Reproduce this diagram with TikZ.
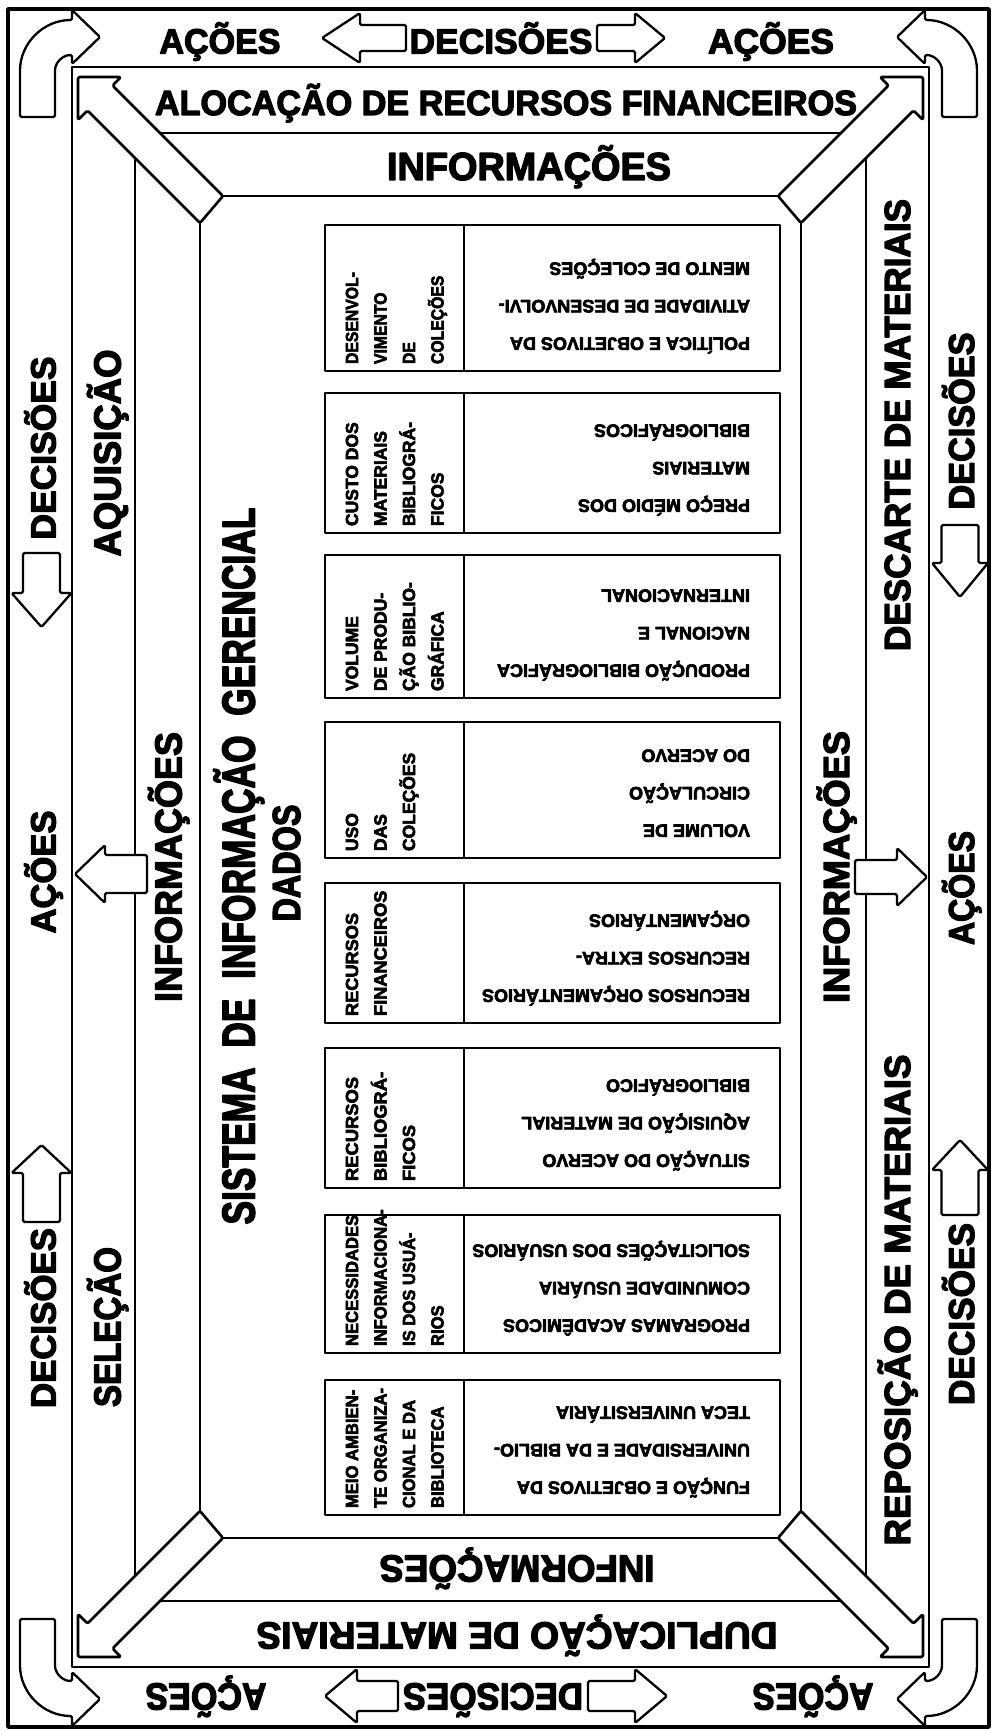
\documentclass[tikz,border=0pt]{standalone}
\usepackage{fontspec}
\setmainfont{Liberation Sans}
\newfontfamily\heavy{Liberation Sans}[FakeBold=3.5]
\usepackage{graphicx}
\newcommand\fitw[2]{\resizebox{#1pt}{\height}{#2}}
\newcommand\myharrow[6]{% yc tail base tip bw hw
  \draw[blk] (#2,{#1-#5}) -- (#3,{#1-#5}) -- (#3,{#1-#6}) -- (#4,#1) -- (#3,{#1+#6}) -- (#3,{#1+#5}) -- (#2,{#1+#5}) -- cycle;}
\newcommand\myvarrow[6]{% xc tail base tip bw hw
  \draw[blk] ({#1-#5},#2) -- ({#1-#5},#3) -- ({#1-#6},#3) -- (#1,#4) -- ({#1+#6},#3) -- ({#1+#5},#3) -- ({#1+#5},#2) -- cycle;}
\newcommand\myhd[4]{% bottom, line index, xscale, text
  \node[lbl, anchor=base west, fs=17.5, rotate=90] (hd#1x#2) at ({358+28.5*#2},{#1-7}) {\scalebox{#3}[1]{#4}};}
\newcommand\myrt[3]{% bottom, line index, text
  \node[lbl, anchor=base west, fs=18, rotate=180] (rt#1x#2) at (750,{#1-33.5-37.5*#2}) {#3};}
\begin{document}
\begin{tikzpicture}[x=1pt,y=-1pt,line join=round,
  lbl/.style={inner sep=0pt,outer sep=0pt,anchor=base},
  fs/.style={font=\heavy\bfseries\fontsize{#1}{#1}\selectfont},
  outerln/.style={line width=3.4pt},
  ln/.style={line width=2.8pt},
  band/.style={line width=2.6pt,fill=white,rounded corners=1.5pt},
  blk/.style={line width=2.3pt,fill=white,rounded corners=1.5pt},
  tbl/.style={line width=2.4pt}]
\useasboundingbox (0,0) rectangle (991,1731);
\fill[white] (0,0) rectangle (991,1731);
% frames
\draw[outerln] (8,9) rectangle (989,1727);
\draw[ln] (72,67) rectangle (929,1667);
\draw[ln] (135,133) -- (866,133);
\draw[ln] (135,1601) -- (866,1601);
\draw[ln] (135,133) -- (135,1601);
\draw[ln] (866,133) -- (866,1601);
\draw[ln] (200,196) -- (801,196);
\draw[ln] (200,1538) -- (801,1538);
\draw[ln] (200,196) -- (200,1538);
\draw[ln] (801,196) -- (801,1538);
% diagonal corner arrows
\foreach \sx/\sy/\mx/\my in {0/0/1/1, 1001/0/-1/1, 0/1734/1/-1, 1001/1734/-1/-1}{
  \begin{scope}[shift={(\sx,\sy)},xscale=\mx,yscale=\my]
    \draw[band] (223,196) -- (112.5,85.5) -- (121,77) -- (78,77) -- (78,120) -- (87.5,110.5) -- (200,223) -- cycle;
  \end{scope}}
% curved arrows in outer corners
\foreach \sx/\sy/\mx/\my in {0/0/1/1, 997/0/-1/1, 0/1736/1/-1, 997/1736/-1/-1}{
  \begin{scope}[shift={(\sx,\sy)},xscale=\mx,yscale=\my]
    \draw[blk] (20,117) -- (20,72) .. controls (20,43.3) and (43.3,20) .. (72,20) -- (72,10) -- (100,37) -- (72,64) -- (72,55) .. controls (62.6,55) and (55,62.6) .. (55,72) -- (55,117) -- cycle;
  \end{scope}}
% straight block arrows
\myharrow{38}{406}{360}{322}{13}{25}
\myharrow{38}{597}{635}{665}{13}{25}
\myharrow{1696}{398}{357}{325}{15}{27}
\myharrow{1696}{588}{635}{667}{15}{27}
\myharrow{874}{147}{105}{75}{19}{29}
\myharrow{877}{855}{897}{927}{17}{29}
\myvarrow{41.5}{553}{593}{627}{18.5}{30}
\myvarrow{41.5}{1222}{1173}{1145}{18.5}{30}
\myvarrow{960}{525}{563}{597}{18.5}{28}
\myvarrow{960}{1215}{1170}{1140}{18.5}{28}
% table
\foreach \t/\b in {225/371,393/533,555/698,722/858,883/1023,1048/1188,1215/1353,1380/1515}{
  \draw[tbl] (325,\t) rectangle (780,\b);
  \draw[tbl] (464,\t) -- (464,\b);}
% headers
\myhd{371}{0}{0.9}{DESENVOL-}\myhd{371}{1}{0.9}{VIMENTO}\myhd{371}{2}{0.9}{DE}\myhd{371}{3}{0.9}{COLEÇÕES}
\myhd{533}{0}{1}{CUSTO DOS}\myhd{533}{1}{1}{MATERIAIS}\myhd{533}{2}{1}{BIBLIOGRÁ-}\myhd{533}{3}{1}{FICOS}
\myhd{698}{0}{1}{VOLUME}\myhd{698}{1}{1}{DE PRODU-}\myhd{698}{2}{1}{ÇÃO BIBLIO-}\myhd{698}{3}{1}{GRÁFICA}
\myhd{858}{0}{1}{USO}\myhd{858}{1}{1}{DAS}\myhd{858}{2}{1}{COLEÇÕES}
\myhd{1023}{0}{1.04}{RECURSOS}\myhd{1023}{1}{1.04}{FINANCEIROS}
\myhd{1188}{0}{1.05}{RECURSOS}\myhd{1188}{1}{1.05}{BIBLIOGRÁ-}\myhd{1188}{2}{1.05}{FICOS}
\myhd{1353}{0}{0.95}{NECESSIDADES}\myhd{1353}{1}{0.95}{INFORMACIONA-}\myhd{1353}{2}{0.95}{IS DOS USUÁ-}\myhd{1353}{3}{0.95}{RIOS}
\myhd{1515}{0}{0.95}{MEIO AMBIEN-}\myhd{1515}{1}{0.95}{TE ORGANIZA-}\myhd{1515}{2}{0.95}{CIONAL E DA}\myhd{1515}{3}{0.95}{BIBLIOTECA}
% right cells
\myrt{371}{0}{POLÍTICA E OBJETIVOS DA}\myrt{371}{1}{ATIVIDADE DE DESENVOLVI-}\myrt{371}{2}{MENTO DE COLEÇÕES}
\myrt{533}{0}{PREÇO MÉDIO DOS}\myrt{533}{1}{MATERIAIS}\myrt{533}{2}{BIBLIOGRÁFICOS}
\myrt{698}{0}{PRODUÇÃO BIBLIOGRÁFICA}\myrt{698}{1}{NACIONAL E}\myrt{698}{2}{INTERNACIONAL}
\myrt{858}{0}{VOLUME DE}\myrt{858}{1}{CIRCULAÇÃO}\myrt{858}{2}{DO ACERVO}
\myrt{1023}{0}{RECURSOS ORÇAMENTÁRIOS}\myrt{1023}{1}{RECURSOS EXTRA-}\myrt{1023}{2}{ORÇAMENTÁRIOS}
\myrt{1188}{0}{SITUAÇÃO DO ACERVO}\myrt{1188}{1}{AQUISIÇÃO DE MATERIAL}\myrt{1188}{2}{BIBLIOGRÁFICO}
\myrt{1353}{0}{PROGRAMAS ACADÊMICOS}\myrt{1353}{1}{COMUNIDADE USUÁRIA}\myrt{1353}{2}{SOLICITAÇÕES DOS USUÁRIOS}
\myrt{1515}{0}{FUNÇÃO E OBJETIVOS DA}\myrt{1515}{1}{UNIVERSIDADE E DA BIBLIO-}\myrt{1515}{2}{TECA UNIVERSITÁRIA}
% top texts
\node[lbl,fs=35] (tA1) at (220,53.5) {\fitw{121}{AÇÕES}};
\node[lbl,fs=35] (tD1) at (501,53.5) {\fitw{183}{DECISÕES}};
\node[lbl,fs=35] (tA2) at (771,53.5) {\fitw{126}{AÇÕES}};
\node[lbl,fs=35] (tAloc) at (506,115) {\fitw{702}{ALOCAÇÃO DE RECURSOS FINANCEIROS}};
\node[lbl,fs=39] (tInfT) at (529,180) {\fitw{284}{INFORMAÇÕES}};
% bottom texts
\node[lbl,fs=37.7,rotate=180] (tDup) at (517,1622.5) {\fitw{521}{DUPLICAÇÃO DE MATERIAIS}};
\node[lbl,fs=37.7,rotate=180] (tInfB) at (517,1555.5) {\fitw{275}{INFORMAÇÕES}};
\node[lbl,fs=37.7,rotate=180] (tA3) at (206,1683.5) {\fitw{121}{AÇÕES}};
\node[lbl,fs=37.7,rotate=180] (tD2) at (493,1683.5) {\fitw{180}{DECISÕES}};
\node[lbl,fs=37.7,rotate=180] (tA4) at (813,1683.5) {\fitw{121}{AÇÕES}};
% left band
\node[lbl,fs=35,rotate=90] (tLD1) at (55.5,448) {\fitw{183}{DECISÕES}};
\node[lbl,fs=35,rotate=90] (tLA) at (55.5,872) {\fitw{123}{AÇÕES}};
\node[lbl,fs=35,rotate=90] (tLD2) at (55.5,1318) {\fitw{180}{DECISÕES}};
% right band
\node[lbl,fs=36,rotate=90] (tRD1) at (974,421) {\fitw{177}{DECISÕES}};
\node[lbl,fs=36,rotate=90] (tRA) at (974,888) {\fitw{114}{AÇÕES}};
\node[lbl,fs=36,rotate=90] (tRD2) at (974,1314) {\fitw{182}{DECISÕES}};
% strips
\node[lbl,fs=37.7,rotate=90] (tAq) at (120.5,453) {\fitw{207}{AQUISIÇÃO}};
\node[lbl,fs=37.7,rotate=90] (tSel) at (120.5,1327) {\fitw{160}{SELEÇÃO}};
\node[lbl,fs=36.3,rotate=90] (tDesc) at (910,425) {\fitw{452}{DESCARTE DE MATERIAIS}};
\node[lbl,fs=36.3,rotate=90] (tRep) at (910,1300) {\fitw{491}{REPOSIÇÃO DE MATERIAIS}};
% informações side bands
\node[lbl,fs=37.7,rotate=90] (tInfL) at (181.5,867) {\fitw{270}{INFORMAÇÕES}};
\node[lbl,fs=36.3,rotate=90] (tInfR) at (849,867) {\fitw{272}{INFORMAÇÕES}};
% centre titles
\node[lbl,fs=46,rotate=90] (tSis) at (254.5,866) {\fitw{717}{SISTEMA\ \ DE\ \ INFORMAÇÃO\ \ GERENCIAL}};
\node[lbl,fs=39,rotate=90] (tDad) at (300,863) {\fitw{117}{DADOS}};
\end{tikzpicture}
\end{document}
